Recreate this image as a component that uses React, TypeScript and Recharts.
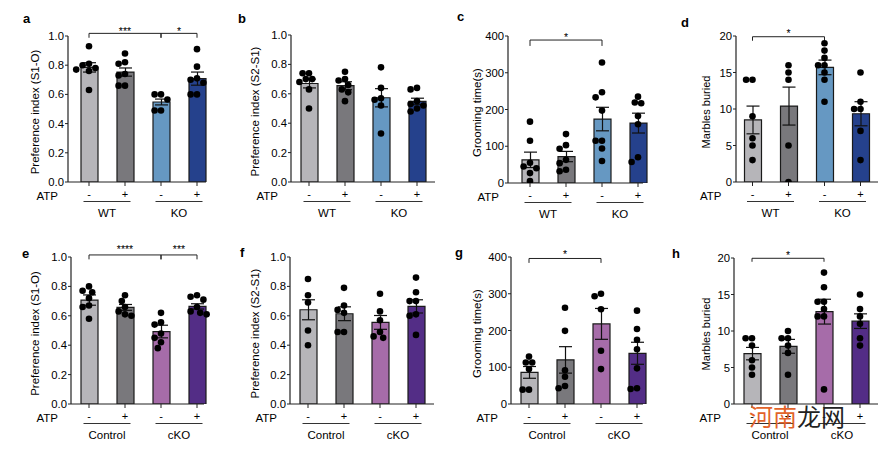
import React from 'react';
import { ComposedChart, Bar, ErrorBar, Scatter, XAxis, YAxis, ReferenceLine, Cell } from 'recharts';

const FONT = '"Liberation Sans", Arial, Helvetica, sans-serif';

// ---------- shared labels ----------
const categories = ['c1', 'c2', 'c3', 'c4'];
const atpSigns = ['-', '+', '-', '+'];
const groupsTop = ['WT', 'KO'];
const groupsBottom = ['Control', 'cKO'];

const ticksIndex = [0, 0.2, 0.4, 0.6, 0.8, 1.0];
const ticksGrooming = [0, 100, 200, 300, 400];
const ticksMarbles = [0, 5, 10, 15, 20];

// ---------- panel a: Preference index (S1-O), WT/KO ----------
const meanA = [0.785, 0.753, 0.548, 0.708];
const semA = [0.032, 0.028, 0.02, 0.045];
const dotsA = [
  [0.93, 0.81, 0.8, 0.78, 0.77, 0.76, 0.63],
  [0.88, 0.82, 0.81, 0.74, 0.73, 0.66, 0.66],
  [0.6, 0.6, 0.565, 0.49, 0.49],
  [0.91, 0.79, 0.71, 0.7, 0.68, 0.6, 0.6],
];

// ---------- panel b: Preference index (S2-S1), WT/KO ----------
const meanB = [0.67, 0.655, 0.573, 0.548];
const semB = [0.03, 0.027, 0.062, 0.022];
const dotsB = [
  [0.74, 0.74, 0.7, 0.7, 0.68, 0.63, 0.5],
  [0.75, 0.7, 0.69, 0.66, 0.63, 0.61, 0.55],
  [0.78, 0.64, 0.57, 0.56, 0.52, 0.33],
  [0.64, 0.63, 0.55, 0.53, 0.52, 0.5, 0.48],
];

// ---------- panel c: Grooming time(s), WT/KO ----------
const meanC = [63, 72, 174, 163];
const semC = [21, 14, 32, 27];
const dotsC = [
  [167, 115, 55, 45, 40, 27, 5],
  [133, 103, 93, 63, 54, 36, 32],
  [328, 247, 233, 197, 115, 115, 94, 60],
  [235, 219, 217, 182, 160, 70, 57],
];

// ---------- panel d: Marbles buried, WT/KO ----------
const meanD = [8.5, 10.4, 15.7, 9.35];
const semD = [1.9, 2.6, 1.0, 1.65];
const dotsD = [
  [14, 14, 9, 6, 5, 3],
  [16, 15, 14, 5, 0],
  [19, 18, 17, 16, 16, 15, 14, 11],
  [15, 11, 10, 10, 7, 3],
];

// ---------- panel e: Preference index (S1-O), Control/cKO ----------
const meanE = [0.707, 0.657, 0.493, 0.664];
const semE = [0.035, 0.02, 0.043, 0.018];
const dotsE = [
  [0.8, 0.77, 0.76, 0.72, 0.67, 0.66, 0.58],
  [0.74, 0.7, 0.66, 0.63, 0.61, 0.6],
  [0.62, 0.555, 0.54, 0.48, 0.45, 0.42, 0.38],
  [0.74, 0.73, 0.71, 0.66, 0.63, 0.62, 0.61],
];

// ---------- panel f: Preference index (S2-S1), Control/cKO ----------
const meanF = [0.641, 0.614, 0.555, 0.664];
const semF = [0.068, 0.047, 0.047, 0.045];
const dotsF = [
  [0.85, 0.74, 0.69, 0.5, 0.4],
  [0.79, 0.67, 0.64, 0.62, 0.49, 0.49],
  [0.75, 0.63, 0.57, 0.49, 0.46, 0.45],
  [0.86, 0.76, 0.7, 0.7, 0.61, 0.6, 0.47],
];

// ---------- panel g: Grooming time(s), Control/cKO ----------
const meanG = [86, 120, 218, 138];
const semG = [16, 36, 42, 30];
const dotsG = [
  [129, 113, 113, 95, 39, 39],
  [262, 199, 92, 74, 49, 43],
  [300, 293, 258, 145, 95],
  [254, 204, 175, 149, 97, 43, 41],
];

// ---------- panel h: Marbles buried, Control/cKO ----------
const meanH = [6.9, 7.9, 12.65, 11.35];
const semH = [0.85, 0.95, 1.7, 1.0];
const dotsH = [
  [9, 9, 8, 6, 5, 4],
  [10, 9, 9, 8, 7, 4],
  [18, 16, 14, 14, 13, 12, 12, 2],
  [15, 13, 12, 11, 9, 8],
];

// ---------- styles & layout ----------
const colorsTop = ['#b6b5b9', '#79787c', '#6698c2', '#25418c'];
const colorsBottom = ['#b6b5b9', '#79787c', '#a66ca9', '#532d86'];
const BAND = 36;
const AXIS = '#222';

type Geo = { axisX: number; top: number; bottom: number; first: number; end: number; labelX: number };
type Bracket = { from: number; to: number; y: number; drop: number; label: string; gap: number };

function swarm(values: number[], pxPerUnit: number): number[] {
  const d = 6.4;
  const placed: [number, number][] = [];
  return values.map((v) => {
    const y = v * pxPerUnit;
    let best = 0;
    for (let k = 0; k < 24; k++) {
      const mag = (Math.ceil(k / 2) * d) / 2;
      const c = k % 2 === 1 ? -mag : mag;
      if (placed.every(([px, py]) => Math.hypot(px - c, py - y) >= d)) {
        best = c;
        break;
      }
    }
    placed.push([best, y]);
    return best;
  });
}

type PanelProps = {
  geo: Geo;
  means: number[];
  sems: number[];
  dots: number[][];
  colors: string[];
  groups: string[];
  yMax: number;
  ticks: number[];
  decimals: number;
  yLabel: string;
  yLabelSize: number;
  brackets: Bracket[];
};

function Panel(p: PanelProps) {
  const { axisX, top, bottom, first, end, labelX } = p.geo;
  const left = axisX - 68;
  const cTop = top - 32;
  const width = end + 6 - left;
  const height = bottom + 44 - cTop;
  const plotH = bottom - top;
  const plotW = end - axisX;
  const padL = first - axisX - BAND / 2;
  const padR = plotW - padL - 4 * BAND;
  const data = categories.map((c, i) => ({ cat: c, mean: p.means[i], sem: p.sems[i] }));
  const pts = p.dots.flatMap((vals, i) => {
    const offs = swarm(vals, plotH / p.yMax);
    return vals.map((v, j) => ({ x: i + offs[j] / BAND, y: v }));
  });
  const lx = labelX - left;
  const ly = (top + bottom) / 2 - cTop + 3;

  const XTick = (t: any) => {
    const { x, y, index } = t;
    const base = y - 4;
    const isGroupStart = index % 2 === 0;
    return (
      <g>
        {index === 0 && (
          <text x={x - 31} y={base + 17.5} textAnchor="end" fontSize={11.5} fontFamily={FONT} fill="#000">
            ATP
          </text>
        )}
        <text x={x} y={base + 16} textAnchor="middle" fontSize={11} fontFamily={FONT} fill="#000">
          {atpSigns[index]}
        </text>
        {isGroupStart && (
          <g>
            <line x1={x - 5.5} x2={x + BAND + 5.5} y1={base + 19.5} y2={base + 19.5} stroke="#333" strokeWidth={1} />
            <text x={x + BAND / 2} y={base + 34.5} textAnchor="middle" fontSize={11.5} fontFamily={FONT} fill="#000">
              {p.groups[index / 2]}
            </text>
          </g>
        )}
      </g>
    );
  };

  const refLines: React.ReactNode[] = [];
  p.brackets.forEach((b, k) => {
    refLines.push(
      <ReferenceLine
        key={`h${k}`}
        xAxisId="cat"
        segment={[
          { x: categories[b.from], y: b.y },
          { x: categories[b.to], y: b.y },
        ]}
        stroke="#222"
        strokeWidth={1}
        ifOverflow="visible"
        label={{
          content: (lp: any) => {
            const vb = lp && lp.viewBox;
            if (!vb) return null;
            return (
              <text
                x={vb.x + vb.width / 2}
                y={vb.y - b.gap + 6}
                textAnchor="middle"
                fontSize={10.5}
                fontFamily={FONT}
                fill="#000"
              >
                {b.label}
              </text>
            );
          },
        }}
      />
    );
    [b.from, b.to].forEach((ci, m) => {
      refLines.push(
        <ReferenceLine
          key={`v${k}_${m}`}
          xAxisId="cat"
          segment={[
            { x: categories[ci], y: b.y },
            { x: categories[ci], y: b.y - b.drop },
          ]}
          stroke="#222"
          strokeWidth={1}
          ifOverflow="visible"
        />
      );
    });
  });

  return (
    <div style={{ position: 'absolute', left, top: cTop }}>
      <ComposedChart
        width={width}
        height={height}
        data={data}
        margin={{ top: top - cTop, right: left + width - end, bottom: 4, left: 0 }}
      >
        <XAxis
          xAxisId="cat"
          dataKey="cat"
          type="category"
          interval={0}
          padding={{ left: padL, right: padR }}
          height={40}
          axisLine={{ stroke: AXIS, strokeWidth: 1.2 }}
          tickLine={{ stroke: AXIS, strokeWidth: 1 }}
          tickSize={4}
          tickMargin={0}
          tick={XTick}
        />
        <XAxis
          xAxisId="num"
          dataKey="x"
          type="number"
          domain={[-0.5, 3.5]}
          allowDataOverflow
          padding={{ left: padL, right: padR }}
          hide
        />
        <YAxis
          width={68}
          domain={[0, p.yMax]}
          allowDataOverflow
          ticks={p.ticks}
          interval={0}
          tickFormatter={(v: number) => v.toFixed(p.decimals)}
          axisLine={{ stroke: AXIS, strokeWidth: 1.2 }}
          tickLine={{ stroke: AXIS, strokeWidth: 1 }}
          tickSize={3}
          tickMargin={1}
          tick={{ fontSize: 11.3, fill: '#000', fontFamily: FONT }}
          label={() => (
            <text
              x={lx}
              y={ly}
              transform={`rotate(-90, ${lx}, ${ly})`}
              textAnchor="middle"
              dominantBaseline="central"
              fontSize={p.yLabelSize}
              fontFamily={FONT}
              fill="#000"
            >
              {p.yLabel}
            </text>
          )}
        />
        <Bar xAxisId="cat" dataKey="mean" barSize={17} stroke="#1a1a1a" strokeWidth={1.2} isAnimationActive={false}>
          {data.map((d, i) => (
            <Cell key={d.cat} fill={p.colors[i]} />
          ))}
          <ErrorBar dataKey="sem" width={6.5} stroke="#111" strokeWidth={1.2} direction="y" />
        </Bar>
        <Scatter
          xAxisId="num"
          data={pts}
          dataKey="y"
          isAnimationActive={false}
          shape={(s: any) => <circle cx={s.cx} cy={s.cy} r={3.3} fill="#000" />}
        />
        {refLines}
      </ComposedChart>
    </div>
  );
}

const geoA: Geo = { axisX: 68, top: 36, bottom: 182, first: 89, end: 206, labelX: 35 };
const geoB: Geo = { axisX: 291, top: 35, bottom: 182, first: 309, end: 435, labelX: 255 };
const geoC: Geo = { axisX: 508, top: 36, bottom: 183, first: 530, end: 643, labelX: 477 };
const geoD: Geo = { axisX: 736, top: 36, bottom: 182, first: 752.5, end: 878, labelX: 706 };
const geoE: Geo = { axisX: 71, top: 257, bottom: 404, first: 89, end: 204, labelX: 35 };
const geoF: Geo = { axisX: 290, top: 257, bottom: 404, first: 308, end: 434, labelX: 255 };
const geoG: Geo = { axisX: 511, top: 257, bottom: 404, first: 529, end: 643, labelX: 477 };
const geoH: Geo = { axisX: 734, top: 258, bottom: 404, first: 752, end: 878, labelX: 706 };

const panelLetters = [
  { t: 'a', x: 23, y: 23 },
  { t: 'b', x: 238, y: 23 },
  { t: 'c', x: 457, y: 21 },
  { t: 'd', x: 681, y: 27 },
  { t: 'e', x: 22, y: 257.5 },
  { t: 'f', x: 240, y: 257 },
  { t: 'g', x: 455, y: 257 },
  { t: 'h', x: 672, y: 257.5 },
];

export default function App() {
  return (
    <div style={{ position: 'absolute', left: 0, top: 0, width: 885, height: 453, background: '#fff', overflow: 'hidden' }}>
      <Panel geo={geoA} means={meanA} sems={semA} dots={dotsA} colors={colorsTop} groups={groupsTop}
        yMax={1} ticks={ticksIndex} decimals={1} yLabel="Preference index (S1-O)" yLabelSize={11.5}
        brackets={[
          { from: 0, to: 2, y: 1.018, drop: 0.03, label: '***', gap: 4.5 },
          { from: 2, to: 3, y: 1.018, drop: 0.03, label: '*', gap: 4.5 },
        ]} />
      <Panel geo={geoB} means={meanB} sems={semB} dots={dotsB} colors={colorsTop} groups={groupsTop}
        yMax={1} ticks={ticksIndex} decimals={1} yLabel="Preference index (S2-S1)" yLabelSize={11.5} brackets={[]} />
      <Panel geo={geoC} means={meanC} sems={semC} dots={dotsC} colors={colorsTop} groups={groupsTop}
        yMax={400} ticks={ticksGrooming} decimals={0} yLabel="Grooming time(s)" yLabelSize={11.5}
        brackets={[{ from: 0, to: 2, y: 389, drop: 16, label: '*', gap: 5 }]} />
      <Panel geo={geoD} means={meanD} sems={semD} dots={dotsD} colors={colorsTop} groups={groupsTop}
        yMax={20} ticks={ticksMarbles} decimals={0} yLabel="Marbles buried" yLabelSize={11}
        brackets={[{ from: 0, to: 2, y: 19.9, drop: 0.55, label: '*', gap: 5.5 }]} />
      <Panel geo={geoE} means={meanE} sems={semE} dots={dotsE} colors={colorsBottom} groups={groupsBottom}
        yMax={1} ticks={ticksIndex} decimals={1} yLabel="Preference index (S1-O)" yLabelSize={11.5}
        brackets={[
          { from: 0, to: 2, y: 1.014, drop: 0.03, label: '****', gap: 8 },
          { from: 2, to: 3, y: 1.014, drop: 0.03, label: '***', gap: 8 },
        ]} />
      <Panel geo={geoF} means={meanF} sems={semF} dots={dotsF} colors={colorsBottom} groups={groupsBottom}
        yMax={1} ticks={ticksIndex} decimals={1} yLabel="Preference index (S2-S1)" yLabelSize={11.5} brackets={[]} />
      <Panel geo={geoG} means={meanG} sems={semG} dots={dotsG} colors={colorsBottom} groups={groupsBottom}
        yMax={400} ticks={ticksGrooming} decimals={0} yLabel="Grooming time(s)" yLabelSize={11.5}
        brackets={[{ from: 0, to: 2, y: 396, drop: 12, label: '*', gap: 6 }]} />
      <Panel geo={geoH} means={meanH} sems={semH} dots={dotsH} colors={colorsBottom} groups={groupsBottom}
        yMax={20} ticks={ticksMarbles} decimals={0} yLabel="Marbles buried" yLabelSize={11}
        brackets={[{ from: 0, to: 2, y: 19.96, drop: 0.48, label: '*', gap: 5 }]} />
      <svg width={885} height={453} style={{ position: 'absolute', left: 0, top: 0, pointerEvents: 'none' }}>
        {panelLetters.map((l) => (
          <text key={l.t} x={l.x} y={l.y} fontSize={13} fontWeight="bold" fontFamily={FONT} fill="#000">
            {l.t}
          </text>
        ))}
        <text x={749} y={426} fontSize={24} fontFamily='"Noto Sans CJK SC", sans-serif'>
          <tspan fill="#e2632a">河南</tspan>
          <tspan fill="#222">龙网</tspan>
        </text>
      </svg>
    </div>
  );
}
